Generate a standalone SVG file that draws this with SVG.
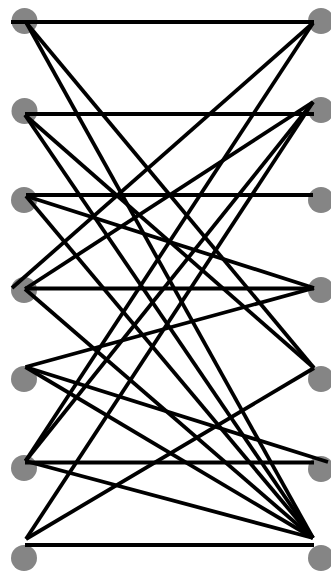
<svg xmlns="http://www.w3.org/2000/svg" width="331" height="571" viewBox="0 0 331 571">
<style>
.n{fill:#858585}
.e line{stroke:#000;stroke-width:3.8;stroke-linecap:butt}
</style>
<rect width="331" height="571" fill="#fff"/>
<g id="L1"><circle class="n" cx="24.5" cy="21" r="13"/></g>
<g id="L2"><circle class="n" cx="24.5" cy="111" r="13"/></g>
<g id="L3"><circle class="n" cx="24" cy="200" r="13"/></g>
<g id="L4"><circle class="n" cx="24" cy="290" r="13"/></g>
<g id="L5"><circle class="n" cx="24" cy="379" r="13"/></g>
<g id="L6"><circle class="n" cx="24" cy="468" r="13"/></g>
<g id="L7"><circle class="n" cx="24" cy="558" r="13"/></g>
<g id="R1"><circle class="n" cx="321" cy="21" r="13"/></g>
<g id="R2"><circle class="n" cx="321" cy="110" r="13"/></g>
<g id="R3"><circle class="n" cx="321" cy="200" r="13"/></g>
<g id="R4"><circle class="n" cx="321" cy="290" r="13"/></g>
<g id="R5"><circle class="n" cx="321" cy="379" r="13"/></g>
<g id="R6"><circle class="n" cx="321" cy="469" r="13"/></g>
<g id="R7"><circle class="n" cx="321" cy="558" r="13"/></g>
<g id="connectors" class="e">
<line x1="11" y1="22" x2="314" y2="22"/>
<line x1="25" y1="114" x2="314" y2="114"/>
<line x1="26" y1="195" x2="313" y2="195"/>
<line x1="25" y1="288.5" x2="314" y2="288.5"/>
<line x1="25" y1="462.5" x2="314" y2="462.5"/>
<line x1="25" y1="545" x2="314" y2="545"/>
<line x1="26.5" y1="23" x2="314" y2="368"/>
<line x1="26.5" y1="23" x2="313" y2="538"/>
<line x1="25" y1="115" x2="314" y2="368"/>
<line x1="25" y1="115" x2="313" y2="538"/>
<line x1="26" y1="196" x2="314" y2="288"/>
<line x1="26" y1="196" x2="313" y2="538"/>
<line x1="12" y1="288" x2="313" y2="23"/>
<line x1="25" y1="289" x2="313" y2="102"/>
<line x1="25" y1="289" x2="313" y2="538"/>
<line x1="25.5" y1="367" x2="314" y2="288"/>
<line x1="25.5" y1="367" x2="328" y2="462"/>
<line x1="25.5" y1="367" x2="313" y2="538"/>
<line x1="25.5" y1="461" x2="313" y2="23"/>
<line x1="25.5" y1="461" x2="313" y2="102"/>
<line x1="25.5" y1="461" x2="313" y2="538"/>
<line x1="26" y1="539" x2="313" y2="102"/>
<line x1="26" y1="539" x2="314" y2="368"/>
</g>
</svg>
